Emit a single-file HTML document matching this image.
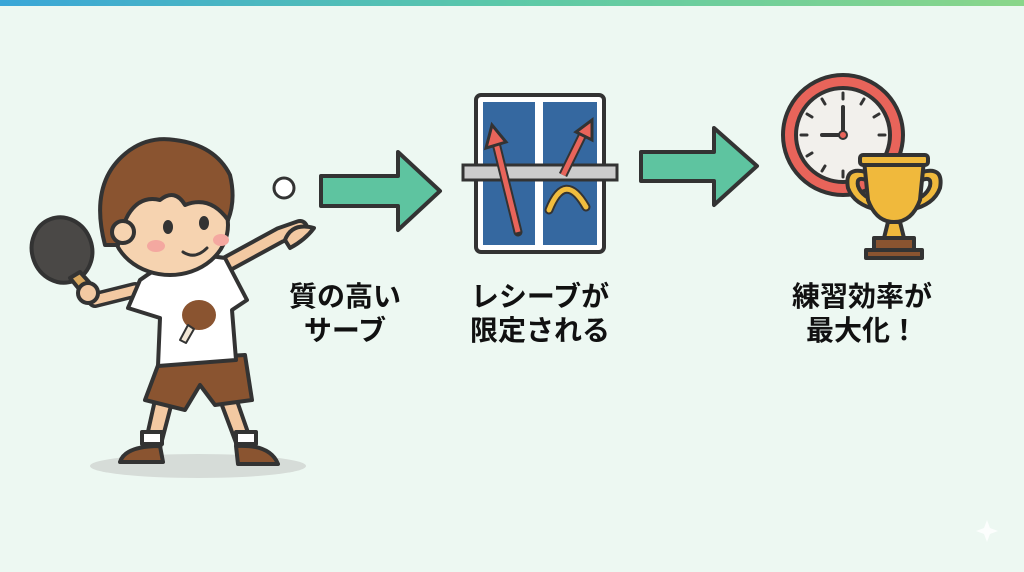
<!DOCTYPE html>
<html><head><meta charset="utf-8"><style>
body{margin:0;width:1024px;height:572px;overflow:hidden;background:#edf8f2;font-family:"Liberation Sans","Noto Sans CJK JP",sans-serif}
.bar{position:absolute;left:0;top:0;width:1024px;height:6px;background:linear-gradient(90deg,#3aa6d8,#5cc9a8,#8ad68a)}
.t{position:absolute;font-weight:bold;font-size:28px;color:#111;text-align:center;line-height:34px;width:200px}
</style></head><body>
<div class="bar"></div>
<svg width="1024" height="572" style="position:absolute;left:0;top:0">
<g stroke="#333" stroke-width="4" stroke-linejoin="round" stroke-linecap="round">
<ellipse cx="198" cy="466" rx="108" ry="12" fill="#d6dcd8" stroke="none"/>
<path d="M155 400 L145 445 L160 448 L172 402Z" fill="#f3c9a2"/>
<path d="M220 400 L238 448 L252 444 L236 398Z" fill="#f3c9a2"/>
<rect x="142" y="432" width="20" height="12" fill="#fff"/>
<rect x="236" y="432" width="20" height="12" fill="#fff"/>
<path d="M120 462 Q125 446 160 446 L163 462Z" fill="#8a5430"/>
<path d="M236 446 Q270 444 278 464 L238 464Z" fill="#8a5430"/>
<path d="M160 360 L245 355 L252 400 L215 405 L200 385 L185 410 L145 400Z" fill="#8a5430"/>
<path d="M135 290 L95 300 L85 290" fill="none" stroke="#333" stroke-width="16"/>
<path d="M135 290 L95 300 L85 290" fill="none" stroke="#f3c9a2" stroke-width="9"/>
<ellipse cx="62" cy="250" rx="30" ry="33" fill="#4a4846" transform="rotate(-20 62 250)"/>
<path d="M70 278 L88 300 L98 292 L80 272Z" fill="#d9a85f"/>
<circle cx="88" cy="293" r="10" fill="#f3c9a2"/>
<path d="M225 265 L280 235 L300 228" fill="none" stroke="#333" stroke-width="18"/>
<path d="M225 265 L280 235 L300 228" fill="none" stroke="#f3c9a2" stroke-width="10"/>
<path d="M285 240 Q292 222 314 228 Q305 240 290 248Z" fill="#f3c9a2"/>
<path d="M140 280 Q180 250 225 258 L247 300 L232 310 L236 360 L158 366 L160 318 L128 308Z" fill="#fff"/>
<ellipse cx="199" cy="315" rx="17" ry="15" fill="#8a5430" stroke="none"/>
<path d="M188 325 L180 340 L186 343 L194 329Z" fill="#f3e7d6" stroke-width="2"/>
<ellipse cx="170" cy="225" rx="58" ry="50" fill="#f6d3b0"/>
<path d="M105 245 Q88 180 130 150 Q150 136 175 140 Q215 145 230 175 Q236 200 228 220 Q210 195 185 205 Q175 188 160 200 Q140 195 128 215 Q120 230 118 245Z" fill="#8a5430"/>
<circle cx="123" cy="232" r="11" fill="#f6d3b0"/>
</g>
<g stroke="none">
<ellipse cx="168" cy="227" rx="5" ry="7" fill="#333"/>
<ellipse cx="204" cy="223" rx="5" ry="7" fill="#333"/>
<ellipse cx="156" cy="246" rx="9" ry="6" fill="#f4a8a0"/>
<ellipse cx="221" cy="240" rx="8" ry="6" fill="#f4a8a0"/>
</g>
<path d="M183 252 Q195 260 207 248" fill="none" stroke="#333" stroke-width="3" stroke-linecap="round"/>
<circle cx="284" cy="188" r="10" fill="#fff" stroke="#333" stroke-width="3"/>
<path d="M321 176 L398 176 L398 152 L440 191 L398 230 L398 206 L321 206Z" fill="#5ec4a0" stroke="#333" stroke-width="4" stroke-linejoin="round"/>
<path d="M641 152 L714 152 L714 128 L757 166 L714 205 L714 181 L641 181Z" fill="#5ec4a0" stroke="#333" stroke-width="4" stroke-linejoin="round"/>
<rect x="476" y="95" width="128" height="157" rx="5" fill="#fff" stroke="#333" stroke-width="4"/>
<rect x="483" y="102" width="52" height="143" fill="#3568a0"/>
<rect x="543" y="102" width="54" height="143" fill="#3568a0"/>
<rect x="463" y="165" width="154" height="15" fill="#ccc" stroke="#333" stroke-width="3"/>
<path d="M518 232 L496 143" stroke="#333" stroke-width="9" stroke-linecap="round"/>
<path d="M518 232 L496 143" stroke="#e8645a" stroke-width="5"/>
<path d="M486 148 L492 125 L506 142Z" fill="#e8645a" stroke="#333" stroke-width="3"/>
<path d="M563 175 L585 130" stroke="#333" stroke-width="9"/>
<path d="M563 175 L585 130" stroke="#e8645a" stroke-width="5"/>
<path d="M576 132 L592 120 L592 140Z" fill="#e8645a" stroke="#333" stroke-width="3"/>
<path d="M549 210 Q565 170 586 207" fill="none" stroke="#333" stroke-width="9" stroke-linecap="round"/>
<path d="M549 210 Q565 170 586 207" fill="none" stroke="#f1bd3e" stroke-width="5" stroke-linecap="round"/>
<circle cx="843" cy="135" r="60" fill="#e8645a" stroke="#333" stroke-width="4"/>
<circle cx="843" cy="135" r="47" fill="#f2f0ec" stroke="#333" stroke-width="4"/>
<g stroke="#333" stroke-width="3" stroke-linecap="round">
<line x1="843" y1="93" x2="843" y2="99"/><line x1="843" y1="171" x2="843" y2="177"/>
<line x1="801" y1="135" x2="807" y2="135"/><line x1="879" y1="135" x2="885" y2="135"/>
<line x1="864" y1="99" x2="861" y2="104"/><line x1="822" y1="99" x2="825" y2="104"/>
<line x1="879" y1="114" x2="874" y2="117"/><line x1="807" y1="114" x2="812" y2="117"/>
<line x1="807" y1="156" x2="812" y2="153"/><line x1="822" y1="171" x2="825" y2="166"/>
<line x1="843" y1="135" x2="843" y2="107" stroke-width="4"/><line x1="843" y1="135" x2="822" y2="135" stroke-width="4"/>
</g>
<circle cx="843" cy="135" r="4" fill="#e8645a" stroke="#333" stroke-width="2"/>
<g stroke="#333" stroke-width="4" stroke-linejoin="round">
<path d="M866 172 Q844 166 848 188 Q854 205 878 210 L880 202 Q862 198 858 186 Q856 176 866 180Z" fill="#f0b93c"/>
<path d="M922 172 Q944 166 940 188 Q934 205 910 210 L908 202 Q926 198 930 186 Q932 176 922 180Z" fill="#f0b93c"/>
<path d="M864 160 L924 160 L920 200 Q912 222 894 222 Q876 222 868 200Z" fill="#f0b93c"/>
<rect x="860" y="155" width="68" height="10" rx="3" fill="#f0b93c"/>
<path d="M888 222 L900 222 L904 238 L884 238Z" fill="#f0b93c"/>
<rect x="874" y="238" width="40" height="12" fill="#8a5430"/>
<rect x="866" y="250" width="56" height="8" fill="#8a5430"/>
</g>
<path d="M984 528 L987 520 L990 528 L998 531 L990 534 L987 542 L984 534 L976 531Z" fill="#fff" opacity="0.8"/>
</svg>
<div class="t" style="left:245px;top:280px">質の高い<br>サーブ</div>
<div class="t" style="left:440px;top:280px">レシーブが<br>限定される</div>
<div class="t" style="left:762px;top:280px">練習効率が<br>最大化！</div>
</body></html>
